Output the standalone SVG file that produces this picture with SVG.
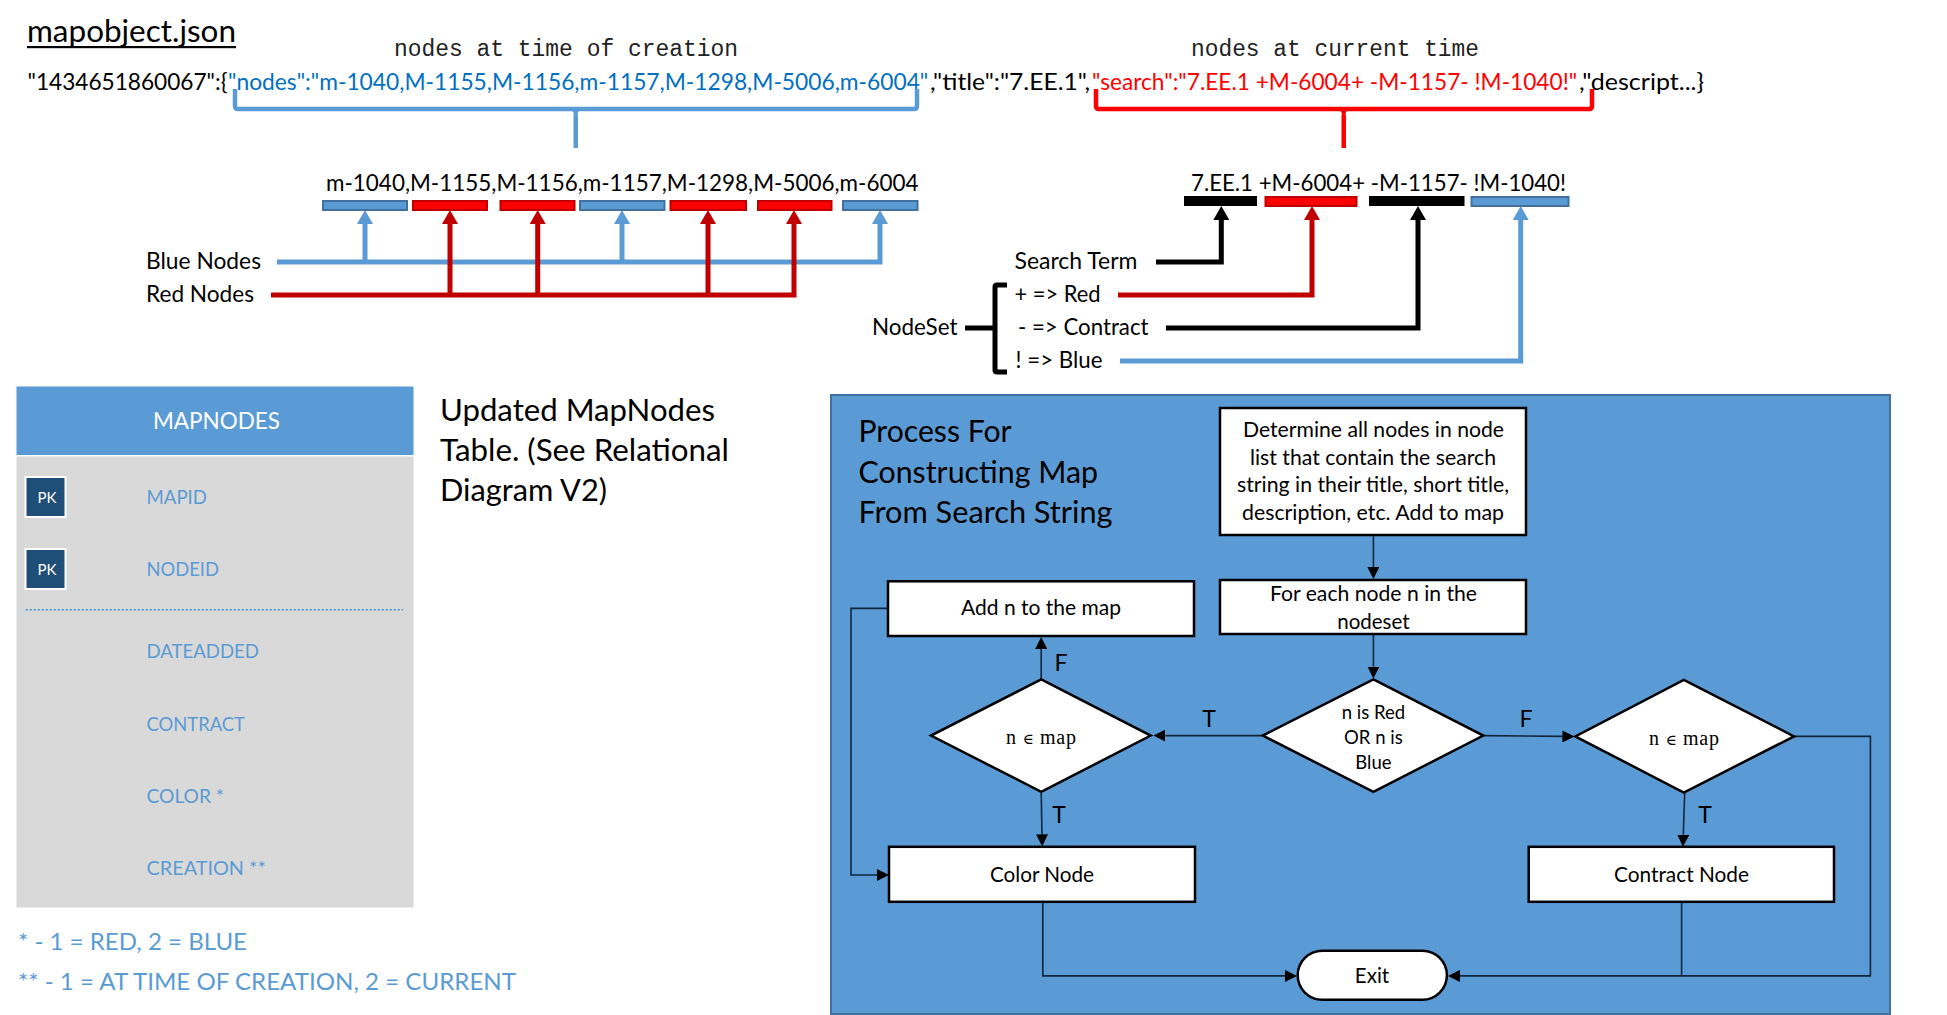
<svg xmlns="http://www.w3.org/2000/svg" width="1947" height="1015" viewBox="0 0 1947 1015">
<style>
text{font-family:Lato,"Open Sans","Liberation Sans",sans-serif;fill:#000;font-size:23.5px}
.mono{font-family:"Liberation Mono",monospace;font-size:23px;fill:#222}
.math{font-family:"Liberation Serif","DejaVu Serif",serif;font-size:20px}
.lg{font-size:30.5px}
.box{font-size:20.5px}
.edge{font-size:23px;text-anchor:middle}
.dia{font-size:18.5px}
.col{font-size:19px;fill:#5B9BD5}
.note{font-size:24px;fill:#5B9BD5}
.mid{text-anchor:middle}
.fl{fill:#fff;stroke:#000;stroke-width:2.5}
.c{fill:none}
.b{stroke:#5B9BD5;stroke-width:5}
.r{stroke:#C00000;stroke-width:5}
.k{stroke:#000;stroke-width:5}
.t{stroke:#10263d;stroke-width:1.6}
.bb{fill:#5B9BD5;stroke:#41719C;stroke-width:2}
.rb{fill:#F00;stroke:#C00000;stroke-width:2}
.kb{fill:#000}
.pk{fill:#1F4E79;stroke:#fff;stroke-width:2}
.pkt{font-size:15px;fill:#fff;text-anchor:middle}
</style>
<defs>
<marker id="hb" markerUnits="userSpaceOnUse" markerWidth="15" markerHeight="16" refX="0" refY="8" orient="auto"><path d="M0 0L14 8L0 16Z" fill="#5B9BD5"/></marker>
<marker id="hr" markerUnits="userSpaceOnUse" markerWidth="15" markerHeight="16" refX="0" refY="8" orient="auto"><path d="M0 0L14 8L0 16Z" fill="#C00000"/></marker>
<marker id="hk" markerUnits="userSpaceOnUse" markerWidth="15" markerHeight="16" refX="0" refY="8" orient="auto"><path d="M0 0L14 8L0 16Z" fill="#000"/></marker>
<marker id="ht" markerUnits="userSpaceOnUse" markerWidth="12" markerHeight="12" refX="0" refY="6" orient="auto"><path d="M0 0L12 6L0 12Z" fill="#000"/></marker>
</defs>

<g id="header">
<text x="27" y="42" style="font-size:30px" textLength="209" lengthAdjust="spacingAndGlyphs">mapobject.json</text>
<rect x="27" y="46" width="209" height="2.2" fill="#000"/>
<text class="mono" x="394" y="56" textLength="344" lengthAdjust="spacingAndGlyphs">nodes at time of creation</text>
<text class="mono" x="1191" y="56" textLength="288" lengthAdjust="spacingAndGlyphs">nodes at current time</text>
<text x="27.5" y="90" textLength="200" lengthAdjust="spacingAndGlyphs">"1434651860067":{</text>
<text transform="translate(228 90) scale(.9695 1)" style="fill:#0070C0">"nodes":"m-1040,M-1155,M-1156,m-1157,M-1298,M-5006,m-6004"</text>
<text x="930" y="90" textLength="160" lengthAdjust="spacingAndGlyphs">,"title":"7.EE.1",</text>
<text transform="translate(1092 90) scale(.965 1)" style="fill:#F00">"search":"7.EE.1 +M-6004+ -M-1157- !M-1040!"</text>
<text x="1579" y="90" textLength="125" lengthAdjust="spacingAndGlyphs">,"descript...}</text>
</g>

<g id="panel"><rect x="831" y="395" width="1059" height="619" fill="#5B9BD5" stroke="#41719C" stroke-width="2"/></g>

<g id="connectors">
<g class="c">
<path d="M235 89V106Q235 109 238 109H914Q917 109 917 106V89" stroke="#5B9BD5" stroke-width="4.500" fill="none"/>
<path d="M570 110Q575 111 573.500 117V148H578V117Q576.500 111 581 110Z" fill="#5B9BD5"/>
<path d="M1096 89V106Q1096 109 1099 109H1589Q1592 109 1592 106V89" stroke="#F00" stroke-width="4.500" fill="none"/>
<path d="M1338 110Q1343 111 1341.500 117V148H1346V117Q1344.500 111 1349 110Z" fill="#F00"/>

<path class="b" d="M277 262H880V224" marker-end="url(#hb)"/>
<path class="b" d="M365 262V224" marker-end="url(#hb)"/>
<path class="b" d="M622 262V224" marker-end="url(#hb)"/>
<path class="r" d="M271 295H794V224" marker-end="url(#hr)"/>
<path class="r" d="M450 295V224" marker-end="url(#hr)"/>
<path class="r" d="M537.700 295V224" marker-end="url(#hr)"/>
<path class="r" d="M708 295V224" marker-end="url(#hr)"/>

<path class="k" d="M1156 262H1221.300V220" marker-end="url(#hk)"/>
<path class="r" d="M1118 295H1312V220" marker-end="url(#hr)"/>
<path class="k" d="M1166 328H1418V220" marker-end="url(#hk)"/>
<path class="b" d="M1120 361H1520.700V220" marker-end="url(#hb)"/>
<path stroke="#000" stroke-width="5" fill="none" d="M1007 285H997Q995 285 995 287V370Q995 372 997 372H1007"/>
<path class="k" d="M965 328H995"/>

<path class="t" d="M1373.400 534.700V567" marker-end="url(#ht)"/>
<path class="t" d="M1373.400 634V666.600" marker-end="url(#ht)"/>
<path class="t" d="M1262.800 735.600H1165.400" marker-end="url(#ht)"/>
<path class="t" d="M1483.300 735.600L1562.400 736.400" marker-end="url(#ht)"/>
<path class="t" d="M1041.200 679.400V649" marker-end="url(#ht)"/>
<path class="t" d="M1041.200 791.800L1042 834.400" marker-end="url(#ht)"/>
<path class="t" d="M887.800 608.400H851V875H877" marker-end="url(#ht)"/>
<path class="t" d="M1042.800 901.800V975.900H1285" marker-end="url(#ht)"/>
<path class="t" d="M1684.700 792.500L1683.300 834.800" marker-end="url(#ht)"/>
<path class="t" d="M1681.600 901.800V975.900"/>
<path class="t" d="M1794 736.400H1870.400V975.900H1460" marker-end="url(#ht)"/>
</g>
</g>

<g id="blue-red-list">
<text x="326" y="191" textLength="592.500" lengthAdjust="spacingAndGlyphs">m-1040,M-1155,M-1156,m-1157,M-1298,M-5006,m-6004</text>
<rect class="bb" x="323" y="201" width="84" height="9"/>
<rect class="rb" x="413" y="201" width="74" height="9"/>
<rect class="rb" x="500.500" y="201" width="74" height="9"/>
<rect class="bb" x="580" y="201" width="84.500" height="9"/>
<rect class="rb" x="670.500" y="201" width="75.500" height="9"/>
<rect class="rb" x="758" y="201" width="73.500" height="9"/>
<rect class="bb" x="843" y="201" width="74.500" height="9"/>
<text x="146" y="269" textLength="115" lengthAdjust="spacingAndGlyphs">Blue Nodes</text>
<text x="146" y="302" textLength="108" lengthAdjust="spacingAndGlyphs">Red Nodes</text>
</g>

<g id="search-list">
<text x="1191" y="190.500" textLength="375" lengthAdjust="spacingAndGlyphs">7.EE.1 +M-6004+ -M-1157- !M-1040!</text>
<rect class="kb" x="1184" y="196" width="73" height="10"/>
<rect class="rb" x="1265.500" y="197" width="91" height="9"/>
<rect class="kb" x="1369" y="196" width="95.500" height="10"/>
<rect class="bb" x="1471.500" y="197" width="97" height="9"/>
<text x="1014.500" y="269" textLength="123" lengthAdjust="spacingAndGlyphs">Search Term</text>
<text x="1014.500" y="302" textLength="86" lengthAdjust="spacingAndGlyphs">+ =&gt; Red</text>
<text x="1018" y="335" textLength="130.500" lengthAdjust="spacingAndGlyphs">- =&gt; Contract</text>
<text x="1015.500" y="368" textLength="87" lengthAdjust="spacingAndGlyphs">! =&gt; Blue</text>
<text x="872" y="335" textLength="85.500" lengthAdjust="spacingAndGlyphs">NodeSet</text>
</g>

<g id="mapnodes-table">
<rect x="16.500" y="386.500" width="397" height="68.500" fill="#5B9BD5"/>
<rect x="16.500" y="456.500" width="397" height="451" fill="#D9D9D9"/>
<text x="153" y="428.500" style="font-size:24px;fill:#fff" textLength="127" lengthAdjust="spacingAndGlyphs">MAPNODES</text>
<rect class="pk" x="25.500" y="477" width="40" height="40"/>
<text class="pkt" x="47" y="503">PK</text>
<rect class="pk" x="25.500" y="549" width="40" height="40"/>
<text class="pkt" x="47" y="575">PK</text>
<text class="col" x="146.500" y="504" textLength="60.500" lengthAdjust="spacingAndGlyphs">MAPID</text>
<text class="col" x="146.500" y="576" textLength="72.500" lengthAdjust="spacingAndGlyphs">NODEID</text>
<line x1="25.500" y1="609.700" x2="403" y2="609.700" stroke="#5B9BD5" stroke-width="1.500" stroke-dasharray="2.500 1.500"/>
<text class="col" x="146.500" y="658" textLength="112.500" lengthAdjust="spacingAndGlyphs">DATEADDED</text>
<text class="col" x="146.500" y="731" textLength="98.500" lengthAdjust="spacingAndGlyphs">CONTRACT</text>
<text class="col" x="146.500" y="803" textLength="77.500" lengthAdjust="spacingAndGlyphs">COLOR *</text>
<text class="col" x="146.500" y="875" textLength="119.500" lengthAdjust="spacingAndGlyphs">CREATION **</text>
</g>

<g id="footnotes">
<text class="note" x="18" y="950" textLength="229" lengthAdjust="spacingAndGlyphs">* - 1 = RED, 2 = BLUE</text>
<text class="note" x="18" y="990" textLength="498" lengthAdjust="spacingAndGlyphs">** - 1 = AT TIME OF CREATION, 2 = CURRENT</text>
</g>

<g id="table-caption">
<text class="lg" x="440" y="420.500" textLength="275" lengthAdjust="spacingAndGlyphs">Updated MapNodes</text>
<text class="lg" x="440" y="461" textLength="289" lengthAdjust="spacingAndGlyphs">Table. (See Relational</text>
<text class="lg" x="440" y="501" textLength="167" lengthAdjust="spacingAndGlyphs">Diagram V2)</text>
</g>

<g id="panel-title">
<text class="lg" x="858.500" y="442" textLength="153" lengthAdjust="spacingAndGlyphs">Process For</text>
<text class="lg" x="858.500" y="482.500" textLength="239.500" lengthAdjust="spacingAndGlyphs">Constructing Map</text>
<text class="lg" x="858.500" y="522.500" textLength="254" lengthAdjust="spacingAndGlyphs">From Search String</text>
</g>

<g id="node-determine">
<rect class="fl" x="1220" y="408" width="306" height="127"/>
<text class="box" x="1243" y="437" textLength="261" lengthAdjust="spacingAndGlyphs">Determine all nodes in node</text>
<text class="box" x="1250" y="465" textLength="246" lengthAdjust="spacingAndGlyphs">list that contain the search</text>
<text class="box" x="1237" y="492" textLength="272" lengthAdjust="spacingAndGlyphs">string in their title, short title,</text>
<text class="box" x="1242" y="519.500" textLength="262" lengthAdjust="spacingAndGlyphs">description, etc. Add to map</text>
</g>
<g id="node-foreach">
<rect class="fl" x="1220" y="580" width="306" height="54"/>
<text class="box" x="1270" y="601" textLength="207" lengthAdjust="spacingAndGlyphs">For each node n in the</text>
<text class="box mid" x="1373.400" y="629">nodeset</text>
</g>
<g id="node-isredblue">
<polygon class="fl" points="1373.400,679.400 1483.300,735.600 1373.400,791.800 1262.800,735.600"/>
<text class="dia mid" x="1373.400" y="719">n is Red</text>
<text class="dia mid" x="1373.400" y="744">OR n is</text>
<text class="dia mid" x="1373.400" y="769">Blue</text>
</g>
<g id="node-inmap-left">
<polygon class="fl" points="1041.200,679.400 1150.700,735.600 1041.200,791.800 931,735.600"/>
<text class="math mid" x="1041" y="744" textLength="70" lengthAdjust="spacing">n <tspan font-size="15">∈</tspan> map</text>
</g>
<g id="node-inmap-right">
<polygon class="fl" points="1683.800,679.800 1794,736.400 1683.800,792.500 1575.300,736.400"/>
<text class="math mid" x="1684" y="745" textLength="70" lengthAdjust="spacing">n <tspan font-size="15">∈</tspan> map</text>
</g>
<g id="node-add">
<rect class="fl" x="888" y="581.300" width="306" height="54.700"/>
<text class="box" x="961" y="615" textLength="160" lengthAdjust="spacingAndGlyphs">Add n to the map</text>
</g>
<g id="node-color">
<rect class="fl" x="889" y="846.800" width="306" height="55"/>
<text class="box" x="990" y="882" textLength="104" lengthAdjust="spacingAndGlyphs">Color Node</text>
</g>
<g id="node-contract">
<rect class="fl" x="1528.700" y="846.800" width="305.300" height="55"/>
<text class="box" x="1614" y="882" textLength="135" lengthAdjust="spacingAndGlyphs">Contract Node</text>
</g>
<g id="node-exit">
<rect class="fl" x="1297.700" y="950.800" width="149.200" height="49" rx="24.500"/>
<text class="box mid" x="1372" y="983">Exit</text>
</g>
<g id="edge-labels">
<text class="edge" x="1209" y="727">T</text>
<text class="edge" x="1526" y="727">F</text>
<text class="edge" x="1061" y="671">F</text>
<text class="edge" x="1059" y="822.500">T</text>
<text class="edge" x="1705" y="822.500">T</text>
</g>
</svg>
